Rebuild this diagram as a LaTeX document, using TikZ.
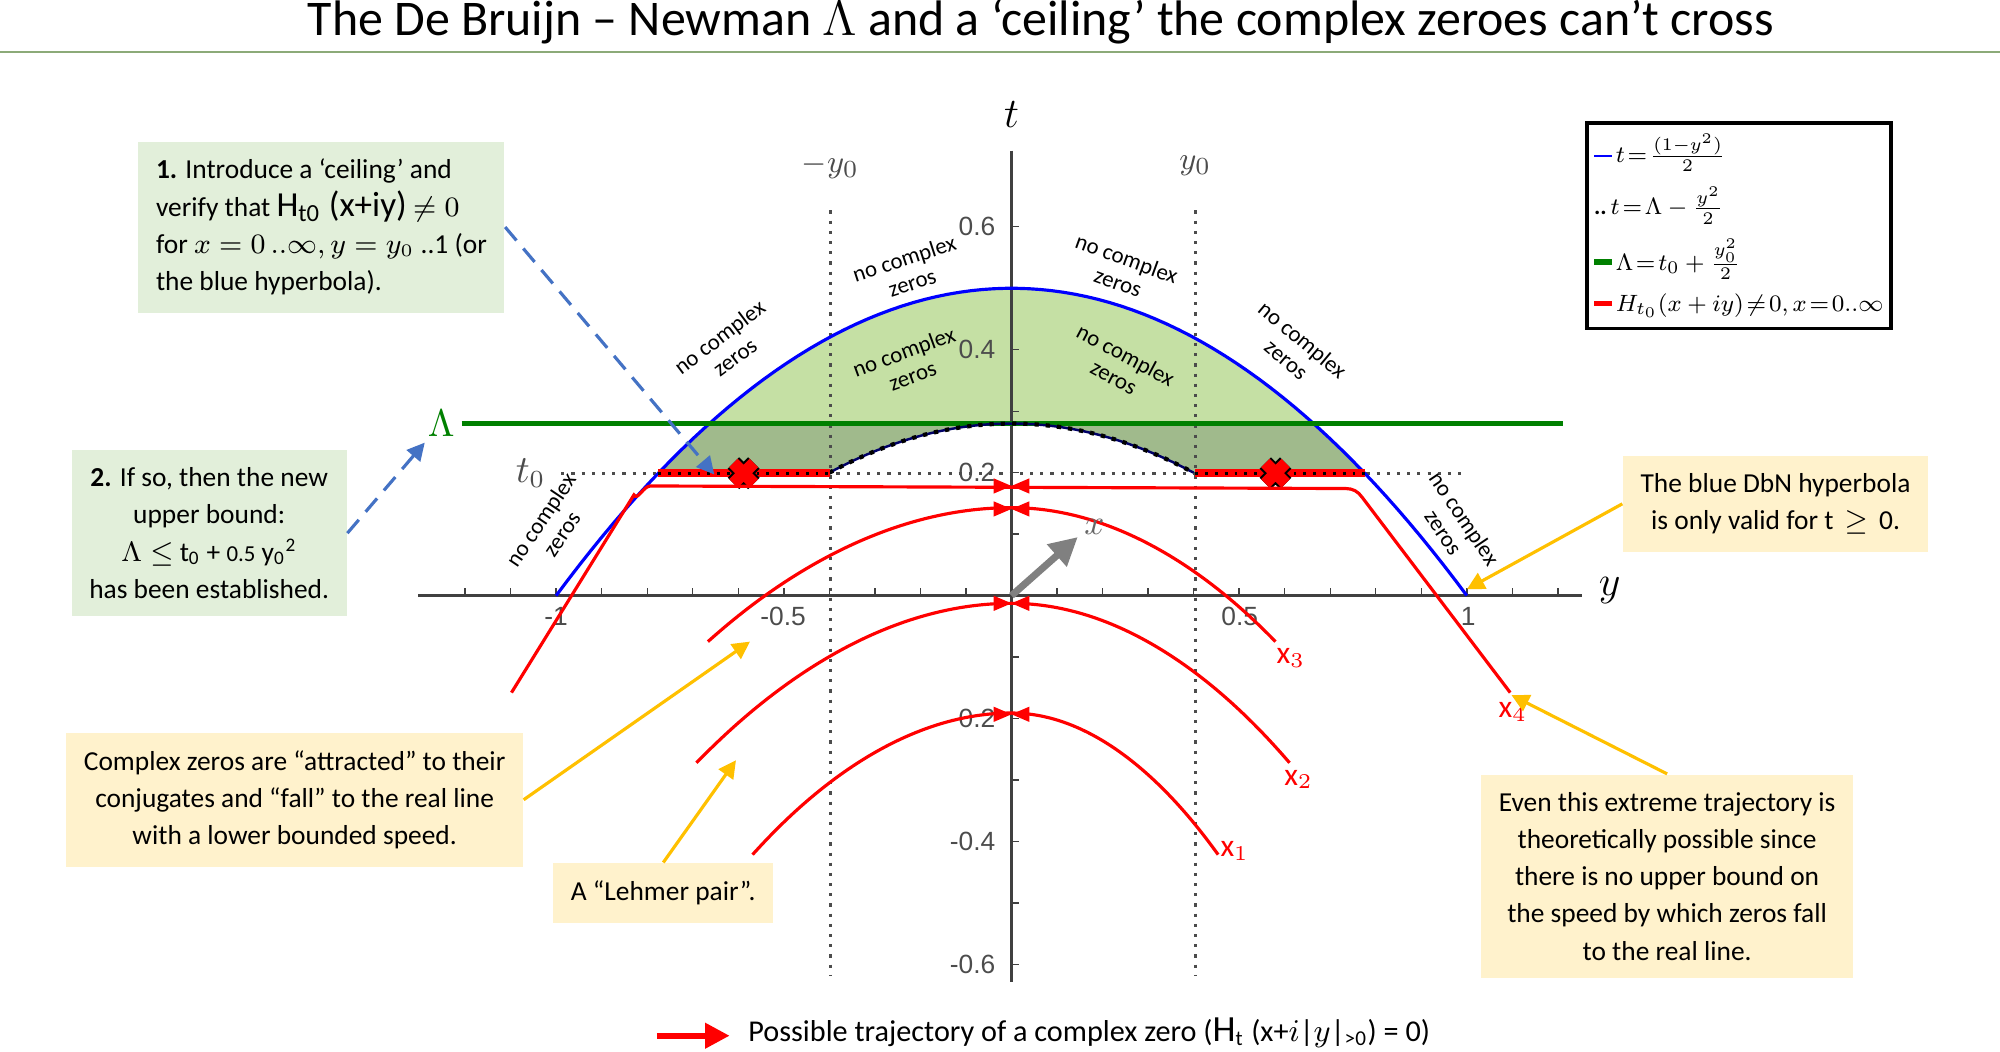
\documentclass[tikz,border=0pt]{standalone}
\usepackage{fontspec}
\setmainfont{Carlito}
\newfontfamily\axf{Liberation Sans}
\usetikzlibrary{arrows.meta}
\definecolor{lgreen}{RGB}{197,224,164}
\definecolor{dgreen}{RGB}{160,186,140}
\definecolor{boxg}{RGB}{226,239,218}
\definecolor{boxy}{RGB}{255,242,204}
\definecolor{ayel}{RGB}{255,192,0}
\definecolor{lgr}{RGB}{0,128,0}
\definecolor{dashb}{RGB}{68,114,196}
\tikzset{
 gbox/.style={fill=boxg,inner sep=5pt,align=left,font=\fontsize{7.8}{10.6}\selectfont},
 ybox/.style={fill=boxy,inner sep=5pt,align=center,font=\fontsize{7.8}{10.6}\selectfont},
 yarr/.style={ayel,line width=0.9pt,-{Triangle[length=5pt,width=5pt]}},
 barr/.style={dashb,line width=0.9pt,dash pattern=on 5pt off 3pt,-{Triangle[length=5pt,width=5pt]}},
 nocz/.style={font=\fontsize{6.5}{7.2}\selectfont,align=center},
 traj/.style={red,line width=0.9pt},
 axl/.style={font=\axf\fontsize{7.5}{9}\selectfont,text=black!70},
 xl/.style={red,font=\fontsize{9}{10}\selectfont},
}
\newcommand{\marker}[1]{%
 \fill[red] (793,#1) -- ++(-14,-6) -- ++(0,12) -- cycle;
 \fill[red] (793,#1) -- ++(14,-6) -- ++(0,12) -- cycle;}
\begin{document}
\begin{tikzpicture}[x=0.012755cm,y=-0.012755cm]
\useasboundingbox (0,0) rectangle (1568,824);
% title
\node[font=\fontsize{14.2}{17}\selectfont] (title) at (816,17) {The De Bruijn -- Newman $\Lambda$ and a `ceiling' the complex zeroes can't cross};
\draw[color={rgb,255:red,140;green,170;blue,120},line width=0.6pt] (0,41) -- (1568,41);
% fills
\fill[lgreen] plot[domain=-0.775:0.775,samples=60] ({793+357*\x},{467-482*(1-\x*\x)/2}) -- (1070,371) -- (937,371) -- plot[domain=0.4:-0.4,samples=30] ({793+357*\x},{467-482*(0.28-\x*\x/2)}) -- (651,371) -- cycle;
\fill[dgreen] plot[domain=-0.663:-0.775,samples=10] ({793+357*\x},{467-482*(1-\x*\x)/2}) -- (651,371) -- plot[domain=-0.4:0,samples=20] ({793+357*\x},{467-482*(0.28-\x*\x/2)}) -- cycle;
\fill[dgreen] plot[domain=0.663:0.775,samples=10] ({793+357*\x},{467-482*(1-\x*\x)/2}) -- (937,371) -- plot[domain=0.4:0,samples=20] ({793+357*\x},{467-482*(0.28-\x*\x/2)}) -- cycle;
% dotted vertical and t0 lines
\draw[dotted,line width=0.9pt,black!70] (651,165) -- (651,765);
\draw[dotted,line width=0.9pt,black!70] (937,165) -- (937,765);
\draw[dotted,line width=0.9pt,black!70] (440,371) -- (1150,371);
% axes
\draw[black!75,line width=0.8pt] (328,467) -- (1240,467);
\draw[black!75,line width=0.8pt] (793,118) -- (793,770);
\foreach \i in {-12,...,12} \draw[black!75] ({793+35.7*\i},467) -- ({793+35.7*\i},461);
\foreach \i in {-6,...,6} \draw[black!75] (793,{467-48.2*\i}) -- (799,{467-48.2*\i});
\node[axl] (ym1) at (436,483) {-1};
\node[axl] (ym5) at (614,483) {-0.5};
\node[axl] (yp5) at (972,483) {0.5};
\node[axl] (yp1) at (1151,483) {1};
\foreach \v/\lab in {0.6/0.6,0.4/0.4,0.2/0.2,-0.2/-0.2,-0.4/-0.4,-0.6/-0.6}
  \node[axl,anchor=east] at (790,{467-482*\v}) {\lab};
\node[font=\fontsize{12}{12}\selectfont] (tlab) at (793,90) {$t$};
\node[font=\fontsize{12}{12}\selectfont] (ylab) at (1262,463) {$y$};
\node[text=black!70,font=\fontsize{9.5}{10}\selectfont] (my0) at (651,130) {$-y_0$};
\node[text=black!70,font=\fontsize{9.5}{10}\selectfont] (py0) at (937,130) {$y_0$};
\node[text=black!70,font=\fontsize{10.5}{11}\selectfont] (t0l) at (416,371) {$t_0$};
\node[text=lgr,font=\fontsize{11}{11}\selectfont] (laml) at (346,332) {$\Lambda$};
% hyperbola, Lambda, dotted curve
\draw[blue,line width=0.9pt] plot[domain=-1:1,samples=80] ({793+357*\x},{467-482*(1-\x*\x)/2});
\draw[lgr,line width=1.6pt] (362,332) -- (1225,332);
\draw[blue!40!black,line width=0.7pt] plot[domain=-0.4:0.4,samples=40] ({793+357*\x},{467-482*(0.28-\x*\x/2)});
\draw[black,dotted,line width=1.2pt] plot[domain=-0.4:0.4,samples=40] ({793+357*\x},{467-482*(0.28-\x*\x/2)});
% red ceiling segments
\draw[red,line width=2.4pt] (516,371) -- (651,371);
\draw[red,line width=2.4pt] (937,371) -- (1070,371);
\draw[black,dotted,line width=0.8pt] (516,371) -- (651,371) (937,371) -- (1070,371);
\foreach \p in {583,1000}{
 \draw[black,line width=4.6pt] (\p-8,371-8) -- (\p+8,371+8) (\p-8,371+8) -- (\p+8,371-8);
 \draw[red,line width=3.4pt] (\p-8,371-8) -- (\p+8,371+8) (\p-8,371+8) -- (\p+8,371-8);}
% trajectories
\draw[traj] (401,543) -- (497,388) to[out=-60,in=180] (510,381) -- (1055,383) to[out=0,in=125] (1068,390) -- (1184,543);
\draw[traj] (555,503) parabola bend (793,398) (1000,503);
\draw[traj] (546,598) parabola bend (793,473) (1011,598);
\draw[traj] (590,670) parabola bend (793,559) (955,670);
\marker{381}\marker{399}\marker{473}\marker{560}
\node[xl] (x1) at (968,667) {x$_1$};
\node[xl] (x2) at (1018,611) {x$_2$};
\node[xl] (x3) at (1012,516) {x$_3$};
\node[xl] (x4) at (1186,558) {x$_4$};
% x arrow
\coordinate (o) at (793,467);
\coordinate (xe) at (845,421);
\draw[gray,line width=2pt,-{Triangle[length=8pt,width=8pt]}] (o) -- (xe);
\node[gray!80!black,font=\fontsize{10}{10}\selectfont] (xlab) at (858,413) {$x$};
% no complex zeros labels
\node[nocz,rotate=56] (n1) at (432,413) {no complex\\zeros};
\node[nocz,rotate=37] (n2) at (570,272) {no complex\\zeros};
\node[nocz,rotate=18] (n3) at (712,212) {no complex\\zeros};
\node[nocz,rotate=20] (n4) at (712,285) {no complex\\zeros};
\node[nocz,rotate=-20] (n5) at (880,212) {no complex\\zeros};
\node[nocz,rotate=-28] (n6) at (878,287) {no complex\\zeros};
\node[nocz,rotate=-40] (n7) at (1015,274) {no complex\\zeros};
\node[nocz,rotate=-56] (n8) at (1140,412) {no complex\\zeros};
% legend
\node[draw,line width=1pt,anchor=north west,minimum width=238*0.012755cm,minimum height=161*0.012755cm,inner sep=0pt] (leg) at (1243,95) {};
\node[anchor=west,font=\fontsize{8}{10}\selectfont,align=left,inner sep=1pt,scale=0.84,transform shape] (legt) at (1247,177) {%
 \textcolor{blue}{\rule[0.5ex]{6pt}{0.8pt}}\,$t\!=\!\frac{(1-y^2)}{2}$\\[4pt]
 \textcolor{black}{\textbf{..}}\,$t\!=\!\Lambda-\frac{y^2}{2}$\\[4pt]
 \textcolor{lgr}{\rule[0.5ex]{6pt}{1.8pt}}\,$\Lambda\!=\!t_0+\frac{y_0^2}{2}$\\[4pt]
 \textcolor{red}{\rule[0.5ex]{6pt}{1.8pt}}\,$H_{t_0}(x+iy)\!\neq\!0, x\!=\!0..\infty$};
% text boxes
\node[gbox,minimum width=275*0.012755cm,minimum height=109*0.012755cm] (b1) at (252,178) {\textbf{1.} Introduce a `ceiling' and\\verify that {\fontsize{10}{11}\selectfont H\textsubscript{t0} (x+iy)} $\neq 0$\\for $x=0\,..\infty, y=y_0$ ..1 (or\\the blue hyperbola).};
\coordinate (b1e) at (560,372);
\draw[barr] (b1.east) -- (b1e);
\node[gbox,align=center,minimum width=195*0.012755cm,minimum height=111*0.012755cm] (b2) at (164,418) {\textbf{2.} If so, then the new\\upper bound:\\$\Lambda \leq$ t\textsubscript{0} + {\fontsize{6.5}{8}\selectfont 0.5} y\textsubscript{0}\textsuperscript{2}\\has been established.};
\coordinate (b2e) at (333,347);
\draw[barr] (b2.east) -- (b2e);
\node[ybox,minimum width=327*0.012755cm,minimum height=81*0.012755cm] (b3) at (231,627) {Complex zeros are “attracted” to their\\conjugates and “fall” to the real line\\with a lower bounded speed.};
\coordinate (b3e) at (588,503);
\draw[yarr] (b3.east) -- (b3e);
\node[ybox,minimum width=155*0.012755cm,minimum height=35*0.012755cm] (b4) at (520,700) {A “Lehmer pair”.};
\coordinate (b4e) at (577,596);
\draw[yarr] (b4.north) -- (b4e);
\node[ybox,minimum width=219*0.012755cm,minimum height=59*0.012755cm] (b5) at (1392,395) {The blue DbN hyperbola\\is only valid for t $\,\geq\,$ 0.};
\coordinate (b5e) at (1150,462);
\draw[yarr] (b5.west) -- (b5e);
\node[ybox,minimum width=266*0.012755cm,minimum height=130*0.012755cm] (b6) at (1307,687) {Even this extreme trajectory is\\theoretically possible since\\there is no upper bound on\\the speed by which zeros fall\\to the real line.};
\coordinate (b6e) at (1185,545);
\draw[yarr] (b6.north) -- (b6e);
% bottom legend
\coordinate (la) at (515,812);
\coordinate (lb) at (572,812);
\draw[red,line width=1.6pt,-{Triangle[length=7pt,width=7pt]}] (la) -- (lb);
\node[anchor=west,font=\fontsize{8.6}{11}\selectfont] (bl) at (577,810) {Possible trajectory of a complex zero ({\fontsize{10.5}{12}\selectfont H}\textsubscript{t} (x+$i$|$y$|\textsubscript{>0}) = 0)};
\end{tikzpicture}
\end{document}
